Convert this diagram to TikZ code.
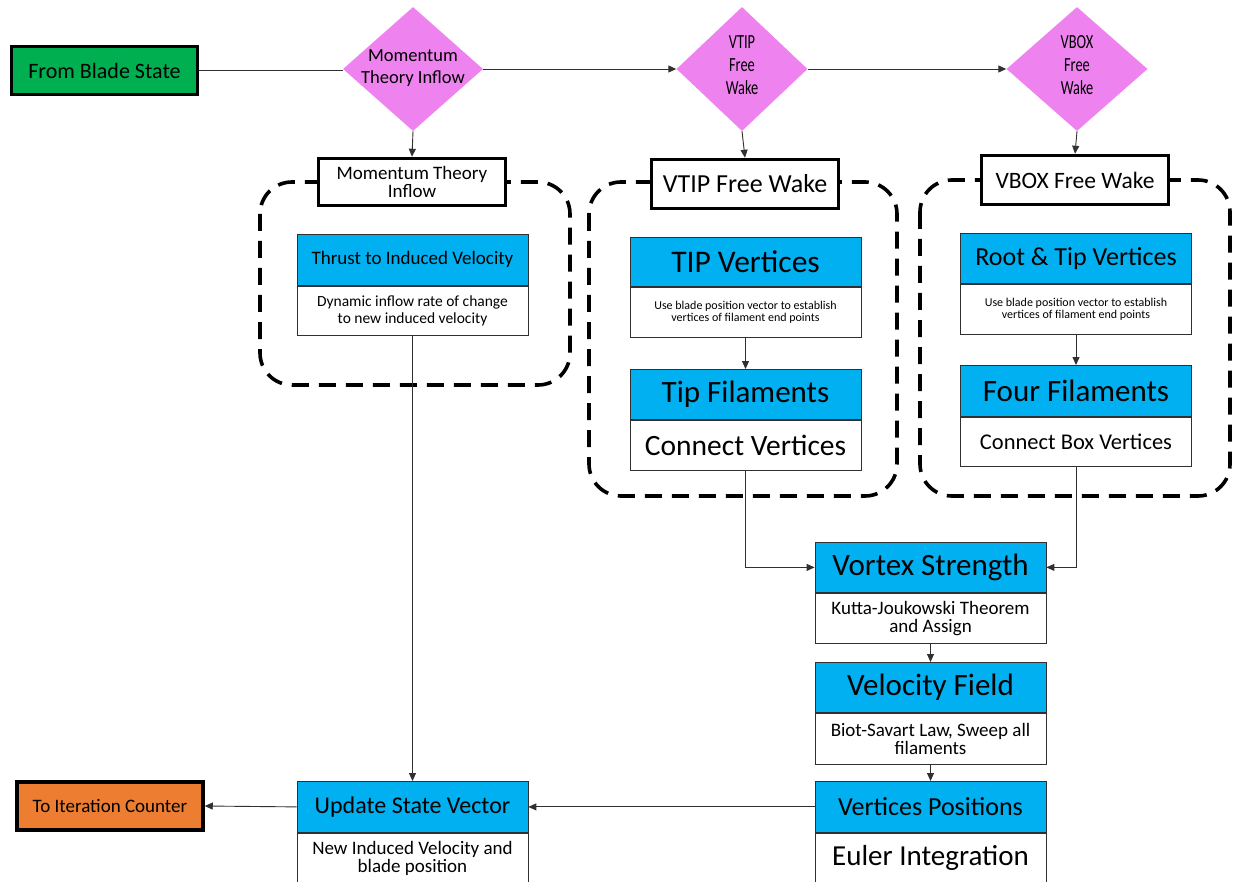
\documentclass[tikz,border=0pt]{standalone}
\usepackage{fontspec}
\setmainfont{Carlito}
\usetikzlibrary{shapes.geometric,arrows.meta}
\definecolor{cblue}{HTML}{00B0F0}
\definecolor{cgreen}{HTML}{00B050}
\definecolor{corange}{HTML}{ED7D31}
\definecolor{cviolet}{HTML}{EE82EE}
\definecolor{cline}{HTML}{303030}
\newcommand{\nrw}[1]{\scalebox{0.72}[1]{#1}}
\begin{document}
\begin{tikzpicture}[x=1pt,y=-1pt,
 hdr/.style={draw=cline, line width=0.8pt, fill=cblue, minimum width=231pt, minimum height=50pt, inner sep=0pt, anchor=north, align=center},
 bdy/.style={draw=cline, line width=0.8pt, fill=white, minimum width=231pt, minimum height=50pt, inner sep=0pt, anchor=north, align=center},
 tbox/.style={draw=black, line width=3.5pt, fill=white, minimum width=187pt, inner sep=0pt, align=center},
 grp/.style={draw=black, line width=3.6pt, dash pattern=on 17pt off 10pt, rounded corners=32pt},
 dia/.style={diamond, fill=cviolet, inner sep=0pt, minimum height=124pt},
 dtxt/.style={align=center, inner sep=0pt},
 conn/.style={draw=cline, line width=0.9pt},
 arr/.style={conn, -{Triangle[length=8pt,width=7pt]}},
]
\useasboundingbox (0,0) rectangle (1233,882);

% dashed groups
\draw[grp] (260,182) rectangle (570,385);
\draw[grp] (589,182) rectangle (897,496);
\draw[grp] (920,180) rectangle (1230,496);

% start / end boxes
\node[draw=black, line width=3.5pt, fill=cgreen, minimum width=186pt, minimum height=48pt, inner sep=0pt, font=\fontsize{22}{24}\selectfont] (fbs) at (104.5,70.5) {From Blade State};
\node[draw=black, line width=3.5pt, fill=corange, minimum width=186pt, minimum height=48pt, inner sep=0pt, font=\fontsize{19}{21}\selectfont] (tic) at (110,806) {To Iteration Counter};

% diamonds
\node[dia, minimum width=140pt] (d1) at (413,69) {};
\node[dtxt, font=\fontsize{18.5}{22.5}\selectfont] at ([yshift=1pt]d1.center) {Momentum\\Theory Inflow};
\node[dia, minimum width=131pt] (d2) at (742,69) {};
\node[dtxt, font=\fontsize{20}{23}\selectfont] at ([yshift=3.5pt]d2.center) {\nrw{VTIP}\\\nrw{Free}\\\nrw{Wake}};
\node[dia, minimum width=141pt] (d3) at (1077,69) {};
\node[dtxt, font=\fontsize{20}{23}\selectfont] at ([yshift=3.5pt]d3.center) {\nrw{VBOX}\\\nrw{Free}\\\nrw{Wake}};

% title boxes
\node[tbox, minimum height=47pt, font=\fontsize{19}{18}\selectfont] (mtT) at (412,182) {Momentum Theory\\Inflow};
\node[tbox, minimum height=49pt, font=\fontsize{26}{28}\selectfont] (vtT) at (745,184) {VTIP Free Wake};
\node[tbox, minimum height=49pt, font=\fontsize{23.5}{26}\selectfont] (vbT) at (1075,180) {VBOX Free Wake};

% inner boxes
\node[hdr, minimum height=51pt, font=\fontsize{19}{21}\selectfont] (thrH) at (412.5,234) {Thrust to Induced Velocity};
\node[bdy, minimum height=49pt, font=\fontsize{15.5}{16.5}\selectfont] (thrB) at (thrH.south) {Dynamic inflow rate of change\\to new induced velocity};

\node[hdr, minimum height=49pt, font=\fontsize{31.5}{33}\selectfont] (tvH) at (745.5,237) {TIP Vertices};
\node[bdy, minimum height=50pt, font=\fontsize{12}{12}\selectfont] (tvB) at (tvH.south) {Use blade position vector to establish\\vertices of filament end points};

\node[hdr, minimum height=50pt, font=\fontsize{31}{33}\selectfont] (tfH) at (745.5,369) {Tip Filaments};
\node[bdy, minimum height=50pt, font=\fontsize{29.5}{31}\selectfont] (tfB) at (tfH.south) {Connect Vertices};

\node[hdr, minimum height=50pt, font=\fontsize{26}{28}\selectfont] (rtH) at (1076,233) {Root \& Tip Vertices};
\node[bdy, minimum height=50pt, font=\fontsize{12}{12}\selectfont] (rtB) at (rtH.south) {Use blade position vector to establish\\vertices of filament end points};

\node[hdr, minimum height=51pt, font=\fontsize{31}{33}\selectfont] (ffH) at (1076,365) {Four Filaments};
\node[bdy, minimum height=49pt, font=\fontsize{22.5}{24}\selectfont] (ffB) at (ffH.south) {Connect Box Vertices};

\node[hdr, minimum height=50pt, font=\fontsize{31}{33}\selectfont] (vsH) at (930.5,542) {Vortex Strength};
\node[bdy, minimum height=50pt, font=\fontsize{19}{18}\selectfont] (vsB) at (vsH.south) {Kutta-Joukowski Theorem\\and Assign};

\node[hdr, minimum height=50pt, font=\fontsize{31}{33}\selectfont] (vfH) at (930.5,662) {Velocity Field};
\node[bdy, minimum height=51pt, font=\fontsize{19}{18}\selectfont] (vfB) at (vfH.south) {Biot-Savart Law, Sweep all\\filaments};

\node[hdr, minimum height=51pt, font=\fontsize{26}{28}\selectfont] (vpH) at (930.5,781) {Vertices Positions};
\node[bdy, minimum height=50pt, font=\fontsize{29}{31}\selectfont] (vpB) at (vpH.south) {Euler Integration};

\node[hdr, minimum height=51pt, font=\fontsize{24}{26}\selectfont] (usH) at (412.5,781) {Update State Vector};
\node[bdy, minimum height=50pt, font=\fontsize{19}{18}\selectfont] (usB) at (usH.south) {New Induced Velocity and\\blade position};

% connectors
\draw[conn] (fbs.east) -- (fbs.east -| d1.west);
\draw[arr] (d1.east) -- (d2.west);
\draw[arr] (d2.east) -- (d3.west);
\draw[arr] (d1.south) -- (mtT.north);
\draw[arr] (d2.south) -- (vtT.north);
\draw[arr] (d3.south) -- (vbT.north);
\draw[arr] (thrB.south) -- (usH.north);
\draw[arr] (tvB.south) -- (tfH.north);
\draw[arr] (rtB.south) -- (ffH.north);
\draw[arr] (tfB.south) |- (vsH.west);
\draw[arr] (ffB.south) |- (vsH.east);
\draw[arr] (vsB.south) -- (vfH.north);
\draw[arr] (vfB.south) -- (vpH.north);
\draw[arr] (vpH.west) -- (usH.east);
\draw[arr] (usH.west) -- (tic.east);
\end{tikzpicture}
\end{document}
